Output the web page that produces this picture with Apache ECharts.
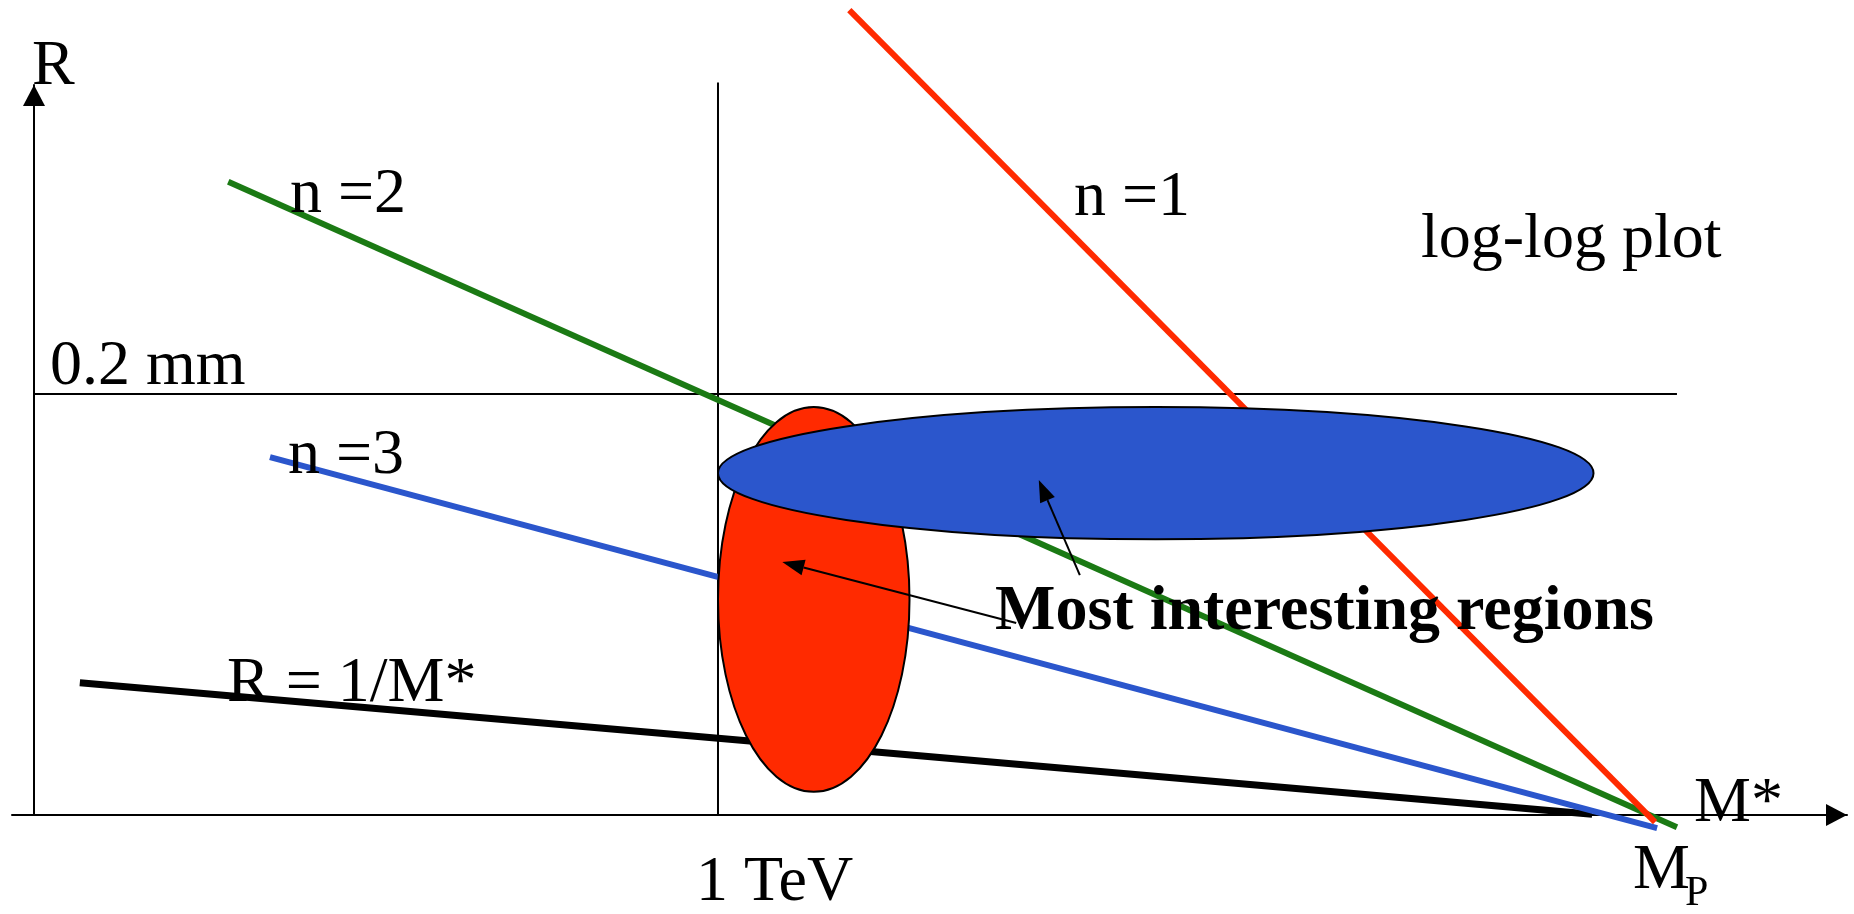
<!DOCTYPE html>
<html>
<head>
<meta charset="utf-8">
<title>log-log plot</title>
<script src="https://cdn.jsdelivr.net/npm/echarts@6/dist/echarts.min.js"></script>
<style>
    html, body { margin: 0; padding: 0; background: #fff; }
    #main { width: 1854px; height: 914px; }
</style>
</head>
<body>
<div id="main"></div>
<script>
// x: log M* , y: log R (schematic units, R axis at x = 0, M* axis at y = 0)
var lineNames = ['R = 1/M*', 'n =3', 'n =2', 'n =1'];
var lineStart = [[0.67, 3.14], [3.45, 8.50], [2.84, 15.04], [11.92, 19.12]];
var lineEnd = [[22.78, 0.02], [23.73, -0.31], [24.02, -0.29], [23.70, -0.17]];

// 1 TeV vertical and 0.2 mm horizontal guides
var guideStart = [[10, 0], [0, 10]];
var guideEnd = [[10, 17.4], [24.02, 10]];

// "most interesting regions" ellipses: centre and radii
var regionCenter = [[11.40, 5.12], [16.40, 8.12]];
var regionRadius = [[1.40, 4.57], [6.40, 1.57]];

// pointer arrows: tail -> tip
var arrowTail = [[14.36, 4.56], [15.29, 5.70]];
var arrowTip = [[10.94, 6.01], [14.69, 7.96]];

// tick labels
var xTickValues = [10, 23.70];
var xTickLabels = ['1 TeV', 'M'];
var yTickValues = [10];
var yTickLabels = ['0.2 mm'];

var FONT = '"Liberation Serif", "Times New Roman", serif';
var lineColors = ['#000000', '#2b56cc', '#1b7a14', '#ff2a00'];
var lineWidths = [7, 6, 6, 6];
var regionColors = ['#ff2a00', '#2b56cc'];

var chart = echarts.init(document.getElementById('main'));

var series = [];
// 辅助线
guideStart.forEach(function (s, i) {
    series.push({
        type: 'line',
        z: 1,
        data: [s, guideEnd[i]],
        symbol: 'none',
        clip: false,
        silent: true,
        lineStyle: { color: '#000', width: 2 }
    });
});
lineNames.forEach(function (name, i) {
    series.push({
        name: name,
        type: 'line',
        z: 2,
        data: [lineStart[i], lineEnd[i]],
        symbol: 'none',
        clip: false,
        lineStyle: { color: lineColors[i], width: lineWidths[i], cap: 'butt' }
    });
});
// 椭圆
series.push({
    type: 'custom',
    z: 5,
    clip: false,
    data: regionCenter.map(function (c, i) {
        return [c[0], c[1], regionRadius[i][0], regionRadius[i][1]];
    }),
    renderItem: function (params, api) {
        var c = api.coord([api.value(0), api.value(1)]);
        var s = api.size([api.value(2), api.value(3)]);
        return {
            type: 'ellipse',
            shape: { cx: c[0], cy: c[1], rx: s[0], ry: s[1] },
            style: { fill: regionColors[params.dataIndex], stroke: '#000', lineWidth: 2 }
        };
    }
});
// 箭头
series.push({
    type: 'custom',
    z: 6,
    clip: false,
    data: arrowTail.map(function (t, i) {
        return [t[0], t[1], arrowTip[i][0], arrowTip[i][1]];
    }),
    renderItem: function (params, api) {
        var a = api.coord([api.value(0), api.value(1)]);
        var b = api.coord([api.value(2), api.value(3)]);
        var dx = b[0] - a[0], dy = b[1] - a[1];
        var len = Math.sqrt(dx * dx + dy * dy);
        var ux = dx / len, uy = dy / len;
        var hl = 22, hw = 8;
        var bx = b[0] - ux * hl, by = b[1] - uy * hl;
        return {
            type: 'group',
            children: [{
                type: 'line',
                shape: { x1: a[0], y1: a[1], x2: bx, y2: by },
                style: { stroke: '#000', lineWidth: 2 }
            }, {
                type: 'polygon',
                shape: { points: [[b[0], b[1]], [bx - uy * hw, by + ux * hw], [bx + uy * hw, by - ux * hw]] },
                style: { fill: '#000' }
            }]
        };
    }
});

var option = {
    animation: false,
    backgroundColor: '#fff',
    grid: { left: 12, right: 7, top: 85, bottom: 99 },
    xAxis: {
        type: 'value',
        min: -0.3216,
        max: 26.506,
        axisLine: {
            onZero: true,
            symbol: ['none', 'triangle'],
            symbolSize: [22, 21],
            symbolOffset: [0, -10.5],
            lineStyle: { color: '#000', width: 2 }
        },
        axisTick: { show: false },
        axisLabel: { show: false },
        splitLine: { show: false }
    },
    yAxis: {
        type: 'value',
        min: 0,
        max: 17.34,
        axisLine: {
            onZero: true,
            symbol: ['none', 'triangle'],
            symbolSize: [22, 21],
            symbolOffset: [0, -10.5],
            lineStyle: { color: '#000', width: 2 }
        },
        axisTick: { show: false },
        axisLabel: { show: false },
        splitLine: { show: false }
    },
    series: series
};
chart.setOption(option);

function txt(text, x, y, size, weight) {
    return {
        type: 'text',
        x: x,
        y: y,
        z: 100,
        style: {
            text: text,
            font: (weight || 'normal') + ' ' + size + 'px ' + FONT,
            fill: '#000',
            textAlign: 'left',
            align: 'left',
            textVerticalAlign: 'middle',
            verticalAlign: 'middle'
        }
    };
}

// 文字标注
var texts = [
    txt('R', 32, 67, 64),
    txt('n =2', 290, 195, 64),
    txt('n =1', 1074, 198, 64),
    txt('log-log plot', 1421, 240, 64),
    txt('n =3', 288, 456, 64),
    txt('R = 1/M*', 227, 684, 64),
    txt('M*', 1694, 804, 64),
    txt('Most interesting regions', 995, 612, 64, 'bold')
];
// 坐标轴刻度文字
xTickValues.forEach(function (v, i) {
    var p = chart.convertToPixel({ gridIndex: 0 }, [v, 0]);
    var dy = i === 0 ? 68 : 56;
    texts.push(txt(xTickLabels[i], p[0] - 22, p[1] + dy, 64));
    if (i === 1) {
        texts.push(txt('P', p[0] + 30, p[1] + 79, 42));
    }
});
yTickValues.forEach(function (v, i) {
    var p = chart.convertToPixel({ gridIndex: 0 }, [0, v]);
    texts.push(txt(yTickLabels[i], p[0] + 16, p[1] - 27, 64));
});
chart.setOption({ graphic: texts });

window.addEventListener('resize', function () {
    chart.resize();
});
</script>
</body>
</html>
